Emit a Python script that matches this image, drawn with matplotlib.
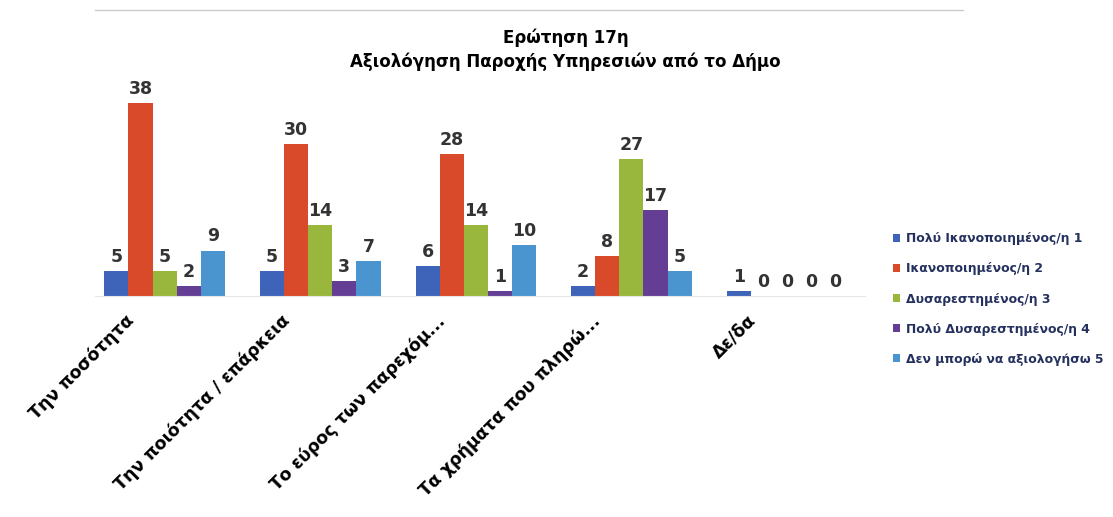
import numpy as np
import matplotlib
matplotlib.use("Agg")
import matplotlib.pyplot as plt
import matplotlib.transforms as mtransforms

plt.rcParams['font.family'] = ['DejaVu Sans']

categories = ["Την ποσότητα", "Την ποιότητα / επάρκεια", "Το εύρος των παρεχόμ...",
              "Τα χρήματα που πληρώ...", "Δε/δα"]
series_names = ["Πολύ Ικανοποιημένος/η 1", "Ικανοποιημένος/η 2", "Δυσαρεστημένος/η 3",
                "Πολύ Δυσαρεστημένος/η 4", "Δεν μπορώ να αξιολογήσω 5"]
very_satisfied = [5, 5, 6, 2, 1]
satisfied = [38, 30, 28, 8, 0]
dissatisfied = [5, 14, 14, 27, 0]
very_dissatisfied = [2, 3, 1, 17, 0]
cannot_rate = [9, 7, 10, 5, 0]

values = [very_satisfied, satisfied, dissatisfied, very_dissatisfied, cannot_rate]
colors = ["#3D64B8", "#D94A2A", "#98B73C", "#633E94", "#4A94D0"]

fig = plt.figure(figsize=(11.13, 5.17), dpi=100)
ax = fig.add_axes([0.085, 0.427, 0.692, 0.393])

x = np.arange(len(categories))
w = 0.155
for i, (vals, col) in enumerate(zip(values, colors)):
    pos = x + (i - 2) * w
    ax.bar(pos, vals, width=w, color=col, label=series_names[i])
    for xp, v in zip(pos, vals):
        ax.text(xp, v + 1.0, str(v), ha='center', va='bottom',
                fontsize=12.5, fontweight='bold', color='#333333')

ax.set_ylim(0, 40)
ax.set_xlim(-0.45, 4.5)
ax.set_yticks([])
ax.set_xticks(x)
ax.set_xticklabels(categories, rotation=45, ha='right', rotation_mode='anchor',
                   fontsize=12.5, fontweight='bold')
ax.tick_params(axis='x', length=0, pad=11)
shift = mtransforms.ScaledTranslation(-40 / 100, 0, fig.dpi_scale_trans)
for lbl in ax.get_xticklabels():
    lbl.set_transform(lbl.get_transform() + shift)
for s in ['top', 'right', 'left']:
    ax.spines[s].set_visible(False)
ax.spines['bottom'].set_color('#E6E6E6')

fig.text(0.508, 0.917, "Ερώτηση 17η", ha='center', fontsize=12, fontweight='bold')
fig.text(0.508, 0.870, "Αξιολόγηση Παροχής Υπηρεσιών από το Δήμο", ha='center',
         fontsize=12, fontweight='bold')

leg = fig.legend(loc='upper left', bbox_to_anchor=(0.792, 0.572), frameon=False,
                 handlelength=0.6, handleheight=0.6, handletextpad=0.5,
                 labelspacing=1.38, prop={'size': 8.9, 'weight': 'bold'})
for t in leg.get_texts():
    t.set_color('#24305E')

fig.add_artist(plt.Line2D([0.085, 0.865], [0.98, 0.98], color='#CCCCCC', lw=1))

fig.savefig("out.png", dpi=100)
